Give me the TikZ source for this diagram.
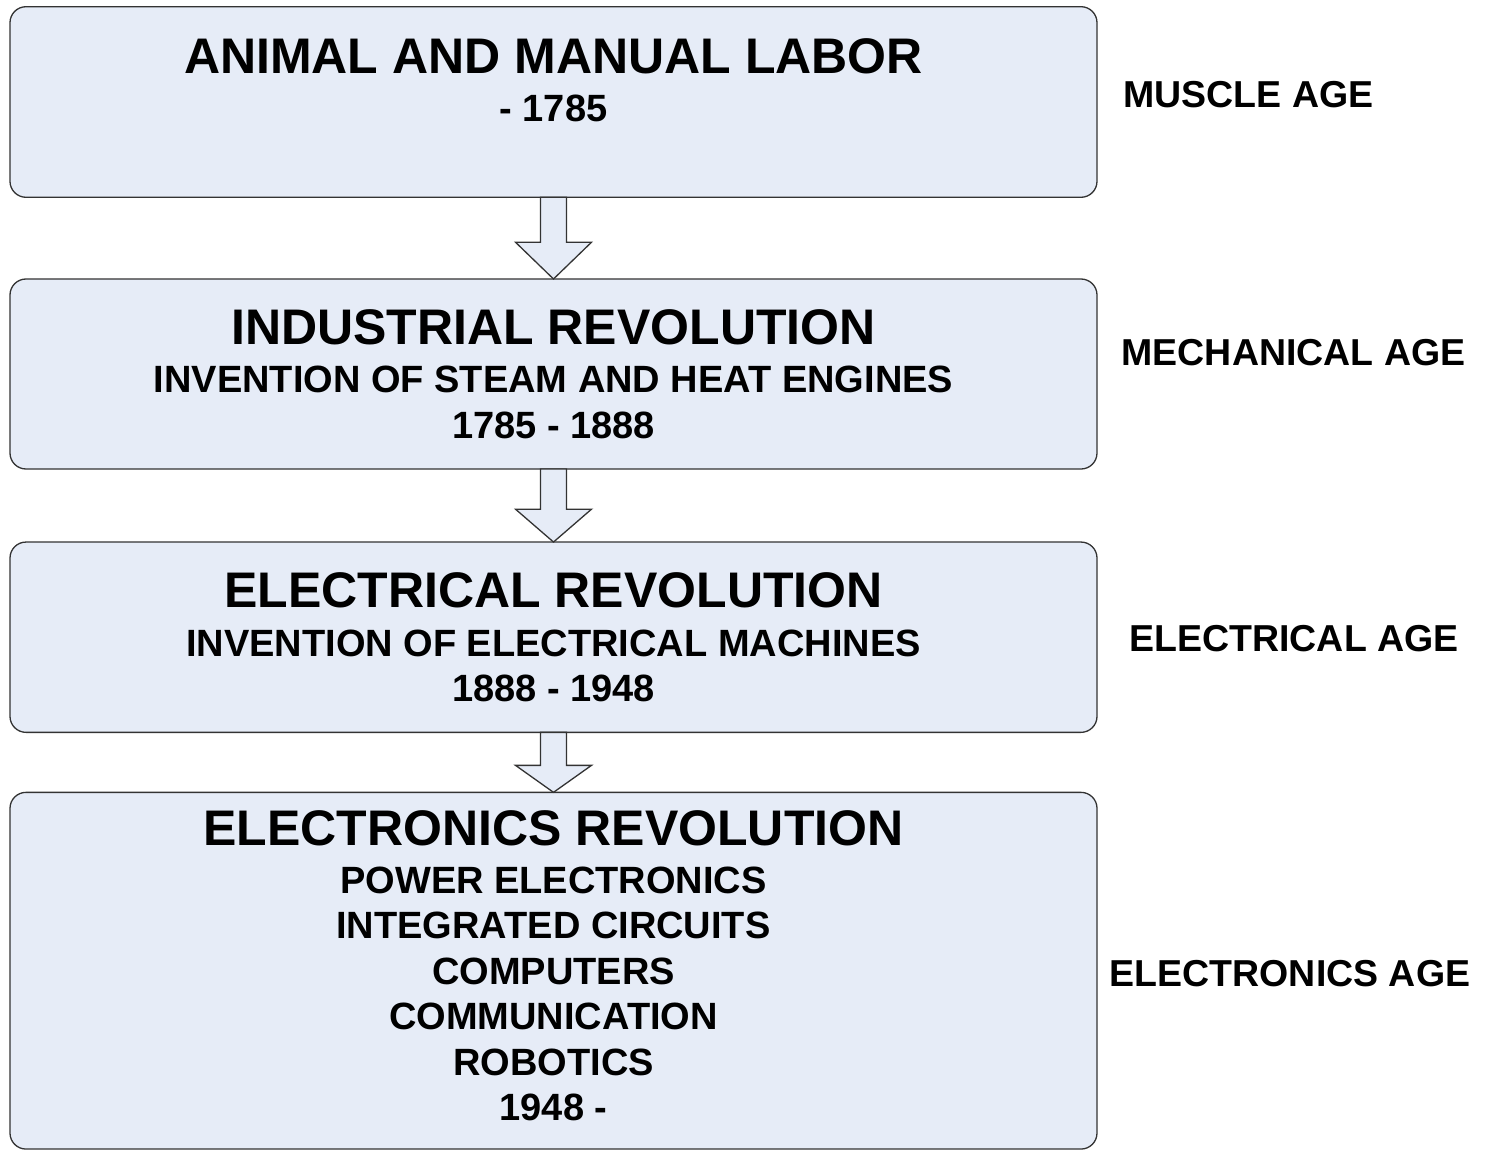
\documentclass[tikz,border=0pt]{standalone}
\usepackage{fontspec}
\setmainfont{Liberation Sans}
\usetikzlibrary{calc}
\definecolor{boxfill}{RGB}{230,236,247}
\newcommand\titlesize{\fontsize{50}{60}\selectfont}
\begin{document}
\begin{tikzpicture}[x=1pt, y=-1pt,
  every node/.style={font=\bfseries\fontsize{37.5}{45.5}\selectfont, inner sep=0pt, outer sep=0pt},
  boxtext/.style={align=center, anchor=base, font=\bfseries\fontsize{38}{45.5}\selectfont},
  agebox/.style={draw=black!80, line width=1.3pt, fill=boxfill, rounded corners=16pt, minimum width=1087pt},
  blockarrow/.style={draw=black!80, line width=1.3pt, fill=boxfill, line join=miter}]
  \useasboundingbox (0,0) rectangle (1485,1150);
  \node [agebox, minimum height=190.6pt] (1) at (553.5,102) {};
  \node [agebox, minimum height=190pt] (2) at (553.5,374) {};
  \node [agebox, minimum height=190.3pt] (3) at (553.5,637.2) {};
  \node [agebox, minimum height=356.7pt] (4) at (553.5,970.7) {};
  \foreach \a/\b in {1/2,2/3,3/4}
    \draw [blockarrow] let \p1=(\a.south), \p2=(\b.north), \n1={0.45*(\y1-\y2)} in
      (\x1-13,\y1) -- (\x1-13,\y2+\n1) -- (\x1-38,\y2+\n1) -- (\x2,\y2)
      -- (\x1+38,\y2+\n1) -- (\x1+13,\y2+\n1) -- (\x1+13,\y1) -- cycle;
  \node [boxtext] (t1) at (553.5,121.7)
    {{\titlesize ANIMAL AND MANUAL LABOR}\\[3pt] - 1785};
  \node [boxtext] (t2) at (553.5,438)
    {{\titlesize INDUSTRIAL REVOLUTION}\\[3pt] INVENTION OF STEAM AND HEAT ENGINES\\ 1785 - 1888};
  \node [boxtext] (t3) at (553.5,701.7)
    {{\titlesize ELECTRICAL REVOLUTION}\\[3pt] INVENTION OF ELECTRICAL MACHINES\\ 1888 - 1948};
  \node [boxtext] (t4) at (553.5,1120.7)
    {{\titlesize ELECTRONICS REVOLUTION}\\[2pt] POWER ELECTRONICS\\ INTEGRATED CIRCUITS\\ COMPUTERS\\
     COMMUNICATION\\ ROBOTICS\\ 1948 -};
  \node [anchor=base] (a1) at (1248.3,107.7) {MUSCLE AGE};
  \node [anchor=base] (a2) at (1293.5,365) {MECHANICAL AGE};
  \node [anchor=base] (a3) at (1294,651) {ELECTRICAL AGE};
  \node [anchor=base] (a4) at (1290,986) {ELECTRONICS AGE};
\end{tikzpicture}
\end{document}
